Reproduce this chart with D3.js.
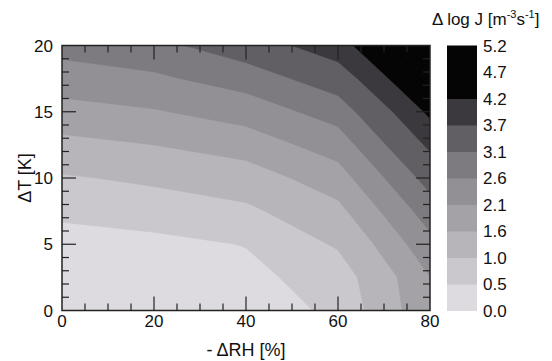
<!DOCTYPE html>
<html><head><meta charset="utf-8">
<script src="https://cdn.jsdelivr.net/npm/d3@7"></script>
<style>
body{margin:0;background:#fff}
svg{display:block}
text{font-family:"Liberation Sans",Arial,Helvetica,sans-serif;fill:#111}
</style>
</head><body><svg id="c" width="552" height="361"></svg>
<script>
// ---- data ----
const rhValues = [0, 20, 40, 60, 80];                 // -ΔRH [%]
const dTValues = [0, 2.5, 5, 7.5, 10, 12.5, 15, 17.5, 20]; // ΔT [K]
// Δlog J along ΔT for each -ΔRH column
const logJ_rh0  = [0.00, 0.12, 0.30, 0.60, 0.94, 1.45, 1.92, 2.35, 2.78];
const logJ_rh20 = [0.08, 0.18, 0.38, 0.71, 1.10, 1.60, 2.06, 2.51, 2.95];
const logJ_rh40 = [0.29, 0.38, 0.515, 0.88, 1.34, 1.83, 2.31, 2.82, 3.40];
const logJ_rh60 = [0.58, 0.71, 1.06, 1.46, 1.88, 2.33, 2.82, 3.39, 4.00];
const logJ_rh80 = [2.04, 2.09, 2.45, 2.85, 3.30, 3.80, 4.30, 4.85, 5.20];
const levels = [0.0, 0.5, 1.0, 1.6, 2.1, 2.6, 3.1, 3.7, 4.2, 4.7, 5.2];
const levelLabels = ["0.0","0.5","1.0","1.6","2.1","2.6","3.1","3.7","4.2","4.7","5.2"];
const bandColors = ["#dddbe0","#cac8cd","#b7b5ba","#a4a2a7","#929095","#7d7b80","#615f64","#3b393d","#050505","#050505"];
const xTicks = [0, 20, 40, 60, 80];
const yTicks = [0, 5, 10, 15, 20];

// ---- layout ----
const svg = d3.select("#c");
const P = {l: 62, r: 430, t: 45.5, b: 310.5};
const xs = d3.scaleLinear().domain([0, 80]).range([P.l, P.r]);
const ys = d3.scaleLinear().domain([0, 20]).range([P.b, P.t]);

const columns = [logJ_rh0, logJ_rh20, logJ_rh40, logJ_rh60, logJ_rh80];
const n = rhValues.length, m = dTValues.length;
const grid = new Array(n * m);
for (let j = 0; j < m; j++) for (let i = 0; i < n; i++) grid[j * n + i] = columns[i][j];

const rhStep = rhValues[1] - rhValues[0], tStep = dTValues[1] - dTValues[0];
const proj = d3.geoTransform({
  point(x, y) {
    const rh = rhValues[0] + (x - 0.5) * rhStep;
    const t = dTValues[0] + (y - 0.5) * tStep;
    this.stream.point(xs(rh), ys(t));
  }
});
const path = d3.geoPath(proj);

svg.append("clipPath").attr("id", "plotclip").append("rect")
  .attr("x", P.l).attr("y", P.t).attr("width", P.r - P.l).attr("height", P.b - P.t);

const g = svg.append("g").attr("clip-path", "url(#plotclip)");
g.append("rect").attr("x", P.l).attr("y", P.t).attr("width", P.r - P.l).attr("height", P.b - P.t)
  .attr("fill", bandColors[0]);
const contours = d3.contours().size([n, m]).thresholds(levels.slice(1, -1))(grid);
contours.forEach((c, k) => {
  g.append("path").attr("d", path(c)).attr("fill", bandColors[k + 1])
    .attr("stroke", bandColors[k + 1]).attr("stroke-width", 0.6);
});

// frame and ticks
const axisColor = "#222";
svg.append("rect").attr("x", P.l).attr("y", P.t).attr("width", P.r - P.l).attr("height", P.b - P.t)
  .attr("fill", "none").attr("stroke", axisColor).attr("stroke-width", 1.5);
const tk = svg.append("g").attr("stroke", axisColor).attr("stroke-width", 1.2);
d3.range(0, 80.001, 5).forEach(v => {
  const L = v % 20 === 0 ? 14 : 7;
  if (v === 0 || v === 80) return;
  tk.append("line").attr("x1", xs(v)).attr("x2", xs(v)).attr("y1", P.b).attr("y2", P.b - L);
  tk.append("line").attr("x1", xs(v)).attr("x2", xs(v)).attr("y1", P.t).attr("y2", P.t + L);
});
d3.range(0, 20.001, 1).forEach(v => {
  const L = v % 5 === 0 ? 14 : 7;
  if (v === 0 || v === 20) return;
  tk.append("line").attr("y1", ys(v)).attr("y2", ys(v)).attr("x1", P.l).attr("x2", P.l + L);
  tk.append("line").attr("y1", ys(v)).attr("y2", ys(v)).attr("x1", P.r).attr("x2", P.r - L);
});

// tick labels
svg.append("g").selectAll("text").data(xTicks).join("text")
  .attr("x", d => xs(d)).attr("y", 327).attr("text-anchor", "middle")
  .attr("font-size", 17).text(d => d);
svg.append("g").selectAll("text").data(yTicks).join("text")
  .attr("x", 53).attr("y", d => ys(d) + 6).attr("text-anchor", "end")
  .attr("font-size", 17).text(d => d);

// axis titles
svg.append("text").attr("x", (P.l + P.r) / 2).attr("y", 356).attr("text-anchor", "middle")
  .attr("font-size", 18).text("- ΔRH [%]");
svg.append("text").attr("transform", `translate(31,${(P.t + P.b) / 2}) rotate(-90)`)
  .attr("text-anchor", "middle").attr("font-size", 18).text("ΔT [K]");

// colorbar
const cb = {x: 447, w: 30};
const cs = d3.scaleLinear().domain([0, levels.length - 1]).range([P.b, P.t]);
svg.append("g").selectAll("rect").data(bandColors).join("rect")
  .attr("x", cb.x).attr("width", cb.w)
  .attr("y", (d, i) => cs(i + 1)).attr("height", (d, i) => cs(i) - cs(i + 1) + 0.5)
  .attr("fill", d => d);
svg.append("g").selectAll("text").data(levelLabels).join("text")
  .attr("x", 483).attr("y", (d, i) => cs(i) + 6).attr("font-size", 17).text(d => d);

const title = svg.append("text").attr("x", 432).attr("y", 25).attr("font-size", 17);
title.append("tspan").text("Δ log J [m");
title.append("tspan").attr("font-size", 11).attr("dy", -7).text("-3");
title.append("tspan").attr("dy", 7).text("s");
title.append("tspan").attr("font-size", 11).attr("dy", -7).text("-1");
title.append("tspan").attr("dy", 7).text("]");
</script>
</body></html>
